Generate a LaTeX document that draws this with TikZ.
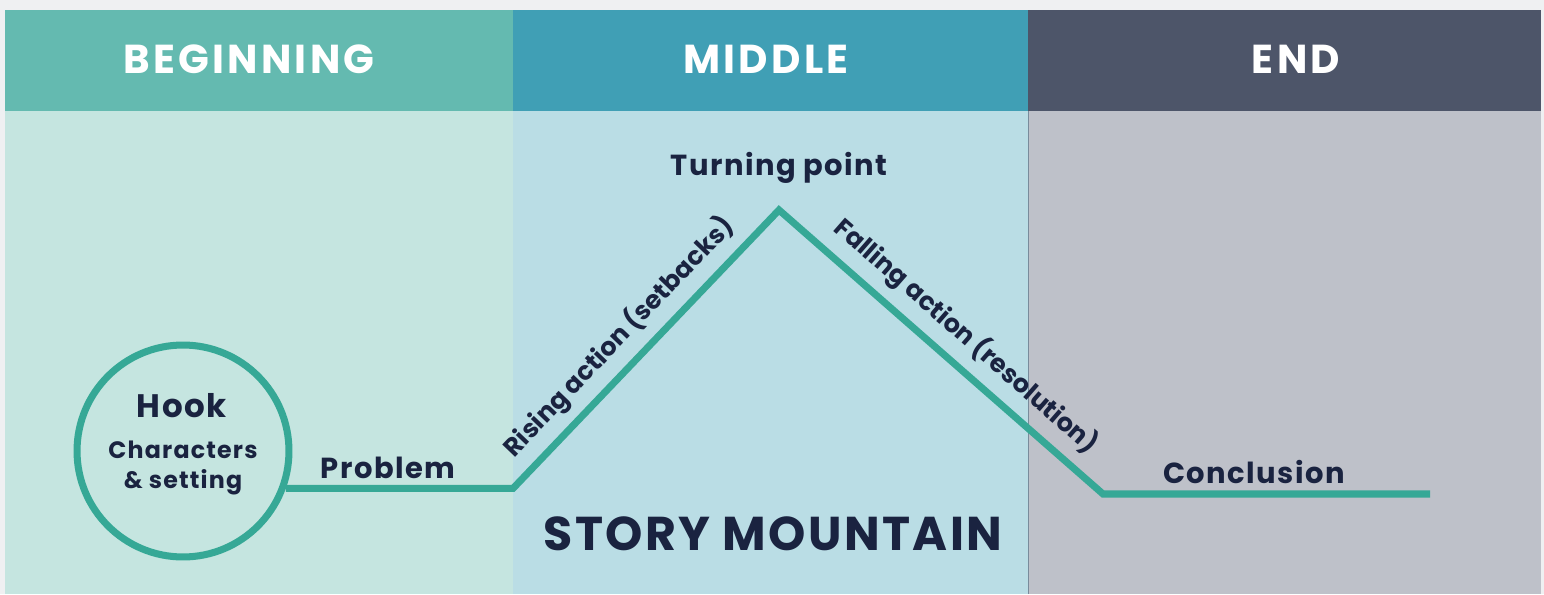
\documentclass[tikz,border=0pt]{standalone}
\usepackage{fontspec}
\setmainfont{Poppins}
\newfontfamily\wideface{Poppins}[LetterSpace=8]
\newfontfamily\midface{Poppins}[LetterSpace=5]
\definecolor{topgray}{HTML}{EFF0F2}
\definecolor{headA}{HTML}{64BAB0}
\definecolor{headB}{HTML}{409FB5}
\definecolor{headC}{HTML}{4D5569}
\definecolor{bodyA}{HTML}{C5E5E0}
\definecolor{bodyB}{HTML}{BADDE5}
\definecolor{bodyC}{HTML}{BEC1C9}
\definecolor{trail}{HTML}{36A896}
\definecolor{ink}{HTML}{1A2340}

\tikzset{
  head/.style={text=white, font=\wideface\fontsize{23}{26}\selectfont\bfseries},
  label/.style={text=ink, font=\midface\fontsize{16.5}{19}\selectfont\bfseries},
  slope/.style={text=ink, font=\fontsize{14.5}{17}\selectfont\bfseries},
  small/.style={text=ink, font=\midface\fontsize{13.5}{17}\selectfont\bfseries, align=center},
}

\begin{document}
\begin{tikzpicture}[x=0.02cm, y=-0.02cm]

        % page and the three columns
        \fill[topgray] (0,0) rectangle (1544,594);
        \fill[headA] (5,10) rectangle (513,111);
        \fill[headB] (513,10) rectangle (1028,111);
        \fill[headC] (1028,10) rectangle (1541,111);
        \fill[bodyA] (5,111) rectangle (513,594);
        \fill[bodyB] (513,111) rectangle (1028,594);
        \fill[bodyC] (1028,111) rectangle (1541,594);
        \draw[headC!60!bodyB, line width=0.5pt] (1028,111) -- (1028,594);

        \begin{scope}[every node/.style={head}]
          \node (beg) at (249,59) {BEGINNING};
          \node (mid) at (766,59) {MIDDLE};
          \node (end) at (1296,59) {END};
        \end{scope}

        % the mountain path
        \node (hook) [circle, draw=trail, line width=4pt, minimum size=4.24cm] at (183,451) {};
        \coordinate (1) at (513,488);
        \coordinate (2) at (779,210);
        \coordinate (3) at (1103,494);
        \coordinate (4) at (1430,494);
        \draw[trail, line width=4pt, line join=miter]
          (hook.-20) -- (1 |- hook.-20) -- (2) -- (3) -- (4);

        \begin{scope}[every node/.style={label}]
          \node (h) [font=\midface\fontsize{18.5}{21}\selectfont\bfseries] at (182,406) {Hook};
          \node (p) at (388,468) {Problem};
          \node (t) at (779,168) {Turning point};
          \node (c) at (1254,472) {Conclusion};
        \end{scope}
        \begin{scope}[every node/.style={slope}]
          \node (r) [rotate=46.3] at (619,337) {Rising action (setbacks)};
          \node (f) [rotate=-41.2] at (966,336) {Falling action (resolution)};
        \end{scope}
        \node (cs) [small] at (183,468) {Characters\\\& setting};
        \node (title) [text=ink, font=\midface\fontsize{27}{32}\selectfont\bfseries]
          at (773,534) {STORY MOUNTAIN};

      \end{tikzpicture}
\end{document}
